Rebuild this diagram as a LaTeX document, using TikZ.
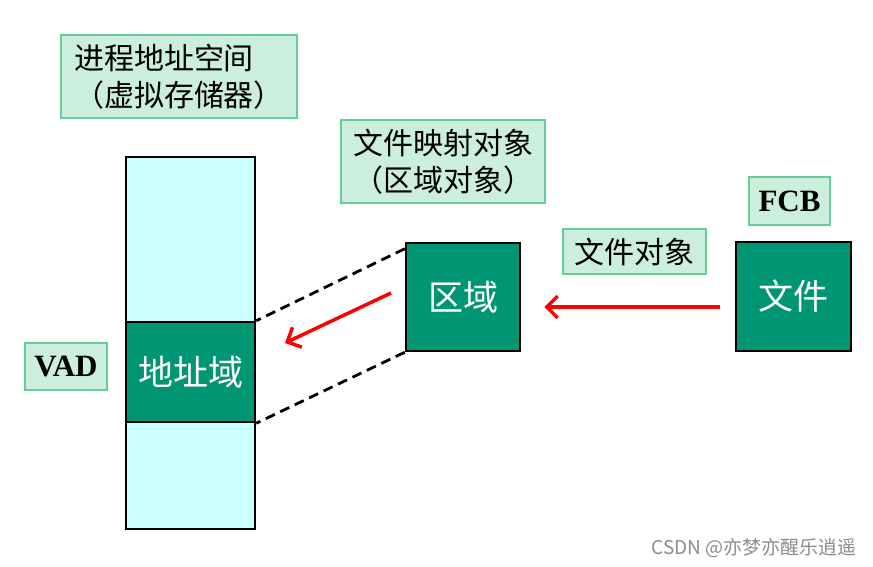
\documentclass[tikz,border=0pt]{standalone}
\usepackage{fontspec}
\setmainfont{Liberation Serif}
\newfontfamily\cjk{Noto Sans CJK SC}
\usetikzlibrary{arrows.meta,calc}
\definecolor{mint}{RGB}{204,238,221}
\definecolor{mintedge}{RGB}{102,204,153}
\definecolor{dkgreen}{RGB}{0,150,115}
\definecolor{ltcyan}{RGB}{204,255,255}
\tikzset{
  lab/.style={draw=mintedge, fill=mint, line width=2.5pt, inner sep=0pt, align=center,
    font=\cjk\fontsize{30}{37}\selectfont},
  latinlab/.style={draw=mintedge, fill=mint, line width=2.5pt, inner sep=0pt,
    font=\bfseries\fontsize{31}{32}\selectfont},
  darkbox/.style={draw=black, fill=dkgreen, line width=2.5pt, inner sep=0pt, text=white,
    font=\cjk\fontsize{35}{40}\selectfont},
  colbox/.style={draw=black, fill=ltcyan, line width=2.5pt, inner sep=0pt},
  dashconn/.style={draw=black, line width=2.8pt, dash pattern=on 10pt off 6pt},
  redarrow/.style={draw=red, line width=3.5pt, -{Straight Barb[length=11pt,width=22pt,line width=3.5pt]}},
}
\begin{document}
\begin{tikzpicture}[x=1pt,y=-1pt]
\useasboundingbox (0,0) rectangle (873,567);
% labels
\node[lab, minimum width=236pt, minimum height=83pt, align=left] (lab1) at (179,76.5)
  {进程地址空间\\（虚拟存储器）};
\node[lab, minimum width=204pt, minimum height=83pt] (lab2) at (443,161.5)
  {文件映射对象\\（区域对象）};
\node[lab, minimum width=143pt, minimum height=45pt] (fobj) at (634.5,251.5) {文件对象};
\node[latinlab, minimum width=82pt, minimum height=47pt] (vad) at (66,366.5) {VAD};
\node[latinlab, minimum width=81pt, minimum height=48pt] (fcb) at (789.5,201) {FCB};
% column
\node[colbox, minimum width=129pt, minimum height=372pt] (col) at (190.5,343) {};
\node[darkbox, minimum width=129pt, minimum height=100pt] (addr) at (190.5,372) {地址域};
% boxes
\node[darkbox, minimum width=114pt, minimum height=108pt] (region) at (463,297) {区域};
\node[darkbox, minimum width=115pt, minimum height=109pt] (file) at (793.5,296.5) {文件};
% dashed connectors
\draw[dashconn] ($(region.north west)+(0,7)$) -- (addr.north east);
\draw[dashconn] (region.south west) -- (addr.south east);
% red arrows
\coordinate (a1s) at (391,293);
\coordinate (a1e) at (285,343);
\draw[redarrow] (a1s) -- (a1e);
\draw[redarrow] ($(file.west)+(-15,10.5)$) -- ($(region.east)+(23,10)$);
% watermark
\node[text=black!45, font=\cjk\fontsize{19}{22}\selectfont, anchor=east] (wm) at (860,548)
  {CSDN @亦梦亦醒乐逍遥};
\end{tikzpicture}
\end{document}
